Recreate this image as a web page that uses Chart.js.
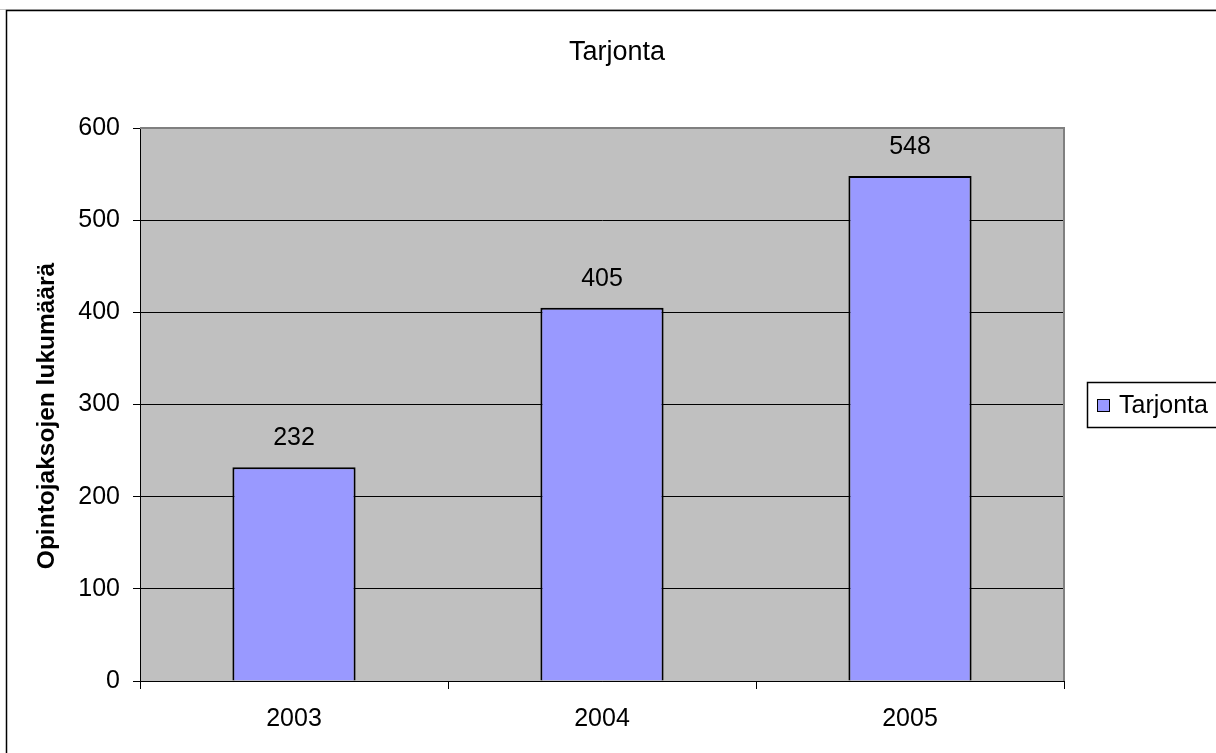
<!DOCTYPE html>
<html>
<head>
<meta charset="utf-8">
<script src="https://cdn.jsdelivr.net/npm/chart.js@4/dist/chart.umd.min.js"></script>
<style>
  html, body { margin: 0; padding: 0; background: #fff; }
  #wrap { width: 1216px; height: 753px; }
</style>
</head>
<body>
<div id="wrap"><canvas id="c" width="1216" height="753"></canvas></div>
<script>
// Data
const years = ['2003', '2004', '2005'];
const tarjonta = [232, 405, 548];
const seriesName = 'Tarjonta';
const chartTitle = 'Tarjonta';
const yTitle = 'Opintojaksojen lukumäärä';

const FONT = '"Liberation Sans", Arial, sans-serif';
Chart.defaults.font.family = FONT;
Chart.defaults.color = '#000';

// Background, frame, titles, legend, value labels
const excelLook = {
  id: 'excelLook',
  beforeDraw(chart) {
    const { ctx, chartArea: a } = chart;
    ctx.save();
    ctx.fillStyle = '#fff';
    ctx.fillRect(0, 0, chart.width, chart.height);
    ctx.strokeStyle = '#c8c8c8';
    ctx.lineWidth = 1;
    ctx.beginPath(); ctx.moveTo(0, 9.5); ctx.lineTo(chart.width, 9.5); ctx.stroke();
    ctx.strokeStyle = '#000';
    ctx.lineWidth = 1.5;
    ctx.strokeRect(6.5, 10.5, 1400, 900);
    ctx.fillStyle = '#c0c0c0';
    ctx.fillRect(a.left, a.top, a.right - a.left, a.bottom - a.top);
    ctx.restore();
  },
  afterDraw(chart) {
    const { ctx, chartArea: a } = chart;
    ctx.save();
    // plot frame
    ctx.strokeStyle = '#808080';
    ctx.lineWidth = 2;
    ctx.beginPath();
    ctx.moveTo(a.left, a.top); ctx.lineTo(a.right, a.top); ctx.lineTo(a.right, a.bottom);
    ctx.stroke();
    // title
    ctx.fillStyle = '#000';
    ctx.font = '27px ' + FONT;
    ctx.textAlign = 'center';
    ctx.textBaseline = 'middle';
    ctx.fillText(chartTitle, 617, 53);
    // y axis title
    ctx.save();
    ctx.translate(47, 416);
    ctx.rotate(-Math.PI / 2);
    ctx.font = 'bold 24.5px ' + FONT;
    ctx.fillText(yTitle, 0, 0);
    ctx.restore();
    // legend
    ctx.strokeStyle = '#000';
    ctx.lineWidth = 1.5;
    ctx.strokeRect(1087.5, 382.5, 200, 45);
    const ds = chart.data.datasets[0];
    ctx.fillStyle = ds.backgroundColor;
    ctx.fillRect(1097, 399, 12, 12);
    ctx.lineWidth = 1;
    ctx.strokeRect(1097.5, 399.5, 12, 12);
    ctx.fillStyle = '#000';
    ctx.textAlign = 'left';
    ctx.font = '25px ' + FONT;
    ctx.fillText(ds.label, 1119, 406);
    // value labels
    const meta = chart.getDatasetMeta(0);
    ctx.textAlign = 'center';
    meta.data.forEach((bar, i) => {
      ctx.fillText(String(ds.data[i]), bar.x, bar.y - 29);
    });
    ctx.restore();
  }
};

new Chart(document.getElementById('c'), {
  type: 'bar',
  data: {
    labels: years,
    datasets: [{
      label: seriesName,
      data: tarjonta,
      backgroundColor: '#9999ff',
      borderColor: '#000',
      borderWidth: 2,
      borderSkipped: 'bottom',
      barPercentage: 0.4,
      categoryPercentage: 1
    }]
  },
  options: {
    responsive: false,
    animation: false,
    devicePixelRatio: 1,
    layout: { padding: { left: 0, top: 128, right: 152, bottom: 0 } },
    plugins: {
      legend: { display: false },
      title: { display: false },
      tooltip: { enabled: false }
    },
    scales: {
      x: {
        afterFit(s) { s.height = 72; },
        grid: { offset: true, drawOnChartArea: false, drawTicks: true, tickLength: 8, color: '#000' },
        border: { color: '#000', width: 1 },
        ticks: { font: { size: 25 }, padding: 15, color: '#000' }
      },
      y: {
        min: 0, max: 600,
        afterFit(s) { s.width = 140; },
        grid: { color: '#000', lineWidth: 1, tickLength: 7, drawTicks: true },
        border: { color: '#000', width: 1 },
        ticks: { stepSize: 100, font: { size: 25 }, padding: 13, color: '#000' },
        title: { display: false }
      }
    }
  },
  plugins: [excelLook]
});
</script>
</body>
</html>
